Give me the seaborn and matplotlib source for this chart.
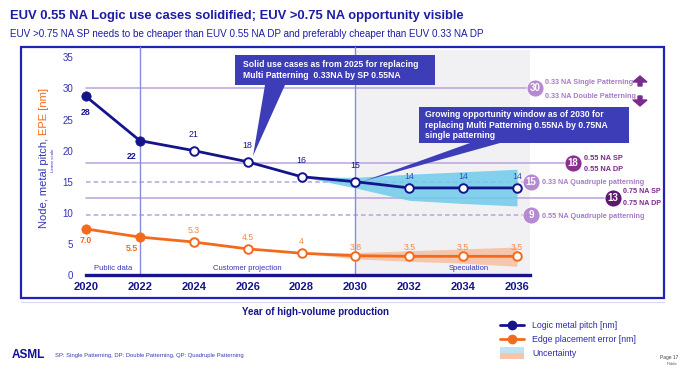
import matplotlib
matplotlib.use("Agg")
import matplotlib.pyplot as plt
import seaborn as sns
import numpy as np
import pandas as pd
from matplotlib import font_manager as fm
from matplotlib.patches import Rectangle, Polygon, FancyArrow
from matplotlib.lines import Line2D

# ---------------- data ----------------
years = [2020, 2022, 2024, 2026, 2028, 2030, 2032, 2034, 2036]
pitch = [28.7, 21.6, 20.0, 18.2, 15.8, 15.0, 14.0, 14.0, 14.0]
pitch_labels = ["28", "22", "21", "18", "16", "15", "14", "14", "14"]
epe = [7.4, 6.1, 5.3, 4.2, 3.5, 3.1, 3.0, 3.0, 3.0]
epe_labels = ["7.0", "5.5", "5.3", "4.5", "4", "3.8", "3.5", "3.5", "3.5"]
band_years = [2028, 2030, 2032, 2034, 2036]
pitch_lo = [15.8, 14.0, 12.0, 11.5, 11.1]
pitch_hi = [15.8, 15.7, 16.2, 16.6, 17.0]
epe_lo = [3.5, 2.6, 2.2, 1.9, 1.4]
epe_hi = [3.5, 3.6, 3.9, 4.2, 4.5]
ref_values = [30, 18, 15, 12.4, 9.6]
ref_numbers = ["30", "18", "15", "13", "9"]
phase_labels = ["Public data", "Customer projection", "Speculation"]
yticks = [0, 5, 10, 15, 20, 25, 30, 35]

W, H = 691, 376
sns.set_theme(style="white")
names = {f.name for f in fm.fontManager.ttflist}
BASE = "Liberation Sans" if "Liberation Sans" in names else "DejaVu Sans"
plt.rcParams["font.family"] = [BASE, "DejaVu Sans"]

NAVY = "#15148c"
BLUE_TXT = "#3434b8"
ORANGE = "#f26b1d"
LPURP = "#b68ad0"
LINE_P = "#b9a3dc"

fig = plt.figure(figsize=(W / 100, H / 100), dpi=100)
fig.patch.set_facecolor("white")

def fx(px):
    return px / W

def fy(py):
    return 1 - py / H

# axes: left 80px, right 540px, bottom 275px (y=0), top 50px
AX_L, AX_R, AX_B, AX_T = 80, 540, 275, 50
ax = fig.add_axes([fx(AX_L), fy(AX_B), (AX_R - AX_L) / W, (AX_B - AX_T) / H])
ax.set_facecolor("none")
pxyr = (517 - 86) / 16.0
x0 = 2020 - (86 - AX_L) / pxyr
x1 = 2036 + (AX_R - 517) / pxyr
ppu = (275 - 57.3) / 35.0
ax.set_xlim(x0, x1)
ax.set_ylim(0, (AX_B - AX_T) / ppu)

def dx(px):
    return 2020 + (px - 86) / pxyr

def dy(py):
    return (275 - py) / ppu

# speculation background
ax.axvspan(years[5], dx(530), ymin=0, ymax=1, color="#f1f1f4", zorder=0, lw=0)

# reference lines
styles = ["-", "-", (0, (3, 2)), "-", (0, (3, 2))]
circle_px = [535, 573, 531, 613, 531]
circle_col = [LPURP, "#8a2f90", LPURP, "#5e1870", LPURP]
for v, ls, cpx, cc, num in zip(ref_values, styles, circle_px, circle_col, ref_numbers):
    ax.plot([years[0], dx(cpx)], [v, v], ls=ls, color=LINE_P, lw=1.1, zorder=1, clip_on=False)
    ax.scatter([dx(cpx)], [v], s=150, color=cc, zorder=6, clip_on=False, edgecolor="white", linewidth=0.6)
    ax.text(dx(cpx), v, num, color="white", fontsize=7, fontweight="bold",
            ha="center", va="center", zorder=7, clip_on=False)

# vertical divider lines
for yr in (years[1], years[5]):
    ax.plot([yr, yr], [0, dy(47)], color="#8a8ae0", lw=1.0, zorder=1, clip_on=False)

# uncertainty bands
ax.fill_between(band_years, pitch_lo, pitch_hi, color="#6fcbea", alpha=0.85, lw=0, zorder=2)
ax.fill_between(band_years, epe_lo, epe_hi, color="#f7b794", alpha=0.75, lw=0, zorder=2)

df = pd.DataFrame({"year": years, "pitch": pitch, "epe": epe})
sns.lineplot(data=df, x="year", y="pitch", color=NAVY, lw=2.0, ax=ax, zorder=4)
sns.lineplot(data=df, x="year", y="epe", color=ORANGE, lw=2.0, ax=ax, zorder=4)
sns.scatterplot(data=df.iloc[:2], x="year", y="pitch", color=NAVY, s=45, edgecolor=NAVY, ax=ax, zorder=5, clip_on=False)
sns.scatterplot(data=df.iloc[2:], x="year", y="pitch", color="white", s=38, edgecolor=NAVY, linewidth=1.4, ax=ax, zorder=5, clip_on=False)
sns.scatterplot(data=df.iloc[:2], x="year", y="epe", color=ORANGE, s=45, edgecolor=ORANGE, ax=ax, zorder=5, clip_on=False)
sns.scatterplot(data=df.iloc[2:], x="year", y="epe", color="white", s=38, edgecolor=ORANGE, linewidth=1.4, ax=ax, zorder=5, clip_on=False)

# value labels
for i, (yr, v, lab) in enumerate(zip(years, pitch, pitch_labels)):
    if i < 2:
        ax.text(yr - (0.3 if i == 1 else 0), v - 2.6, lab, color=NAVY, fontsize=6.3, fontweight="bold",
                ha="center", va="center", zorder=6)
    else:
        ax.text(yr, v + 2.6 if i < 6 else v + 1.9, lab, color=NAVY if i < 6 else "#2f4fb8", fontsize=6.3,
                ha="center", va="center", zorder=6)
for i, (yr, v, lab) in enumerate(zip(years, epe, epe_labels)):
    if i < 2:
        ax.text(yr - (0.3 if i == 1 else 0), v - 1.9, lab, color=ORANGE, fontsize=6.3, fontweight="bold",
                ha="center", va="center", zorder=6)
    else:
        ax.text(yr, v + 1.9 if i < 5 else v + 1.4, lab, color="#f08a4a", fontsize=6.3,
                ha="center", va="center", zorder=6)

# phase labels
for xp, lab in zip([2021.0, 2026.0, 2034.2], phase_labels):
    ax.text(xp, 1.0, lab, color=BLUE_TXT, fontsize=5.5, ha="center", va="center", zorder=6)

# axes styling
sns.despine(ax=ax, left=True, top=True, right=True)
ax.spines["bottom"].set_bounds(years[0], dx(530))
ax.spines["bottom"].set_color(NAVY)
ax.spines["bottom"].set_linewidth(2.4)
ax.set_xticks(years)
ax.set_xticklabels([str(y) for y in years], fontweight="bold", color=NAVY, fontsize=8)
ax.set_yticks(yticks)
ax.set_yticklabels([str(t) for t in yticks], color=BLUE_TXT, fontsize=7)
ax.tick_params(axis="x", length=0, pad=5)
ax.tick_params(axis="y", length=0, pad=5)
ax.set_xlabel("")
ax.set_ylabel("")
ax.grid(False)

# callout boxes
BOXC = "#3d3db8"
b1 = [(dx(235), dy(55)), (dx(435), dy(55)), (dx(435), dy(85)), (dx(285), dy(85)),
      (dx(253), dy(156)), (dx(265), dy(85)), (dx(235), dy(85))]
ax.add_patch(Polygon(b1, closed=True, color=BOXC, zorder=8, clip_on=False, lw=0))
ax.text(dx(243), dy(70), "Solid use cases as from 2025 for replacing\nMulti Patterning  0.33NA by SP 0.55NA",
        color="white", fontsize=6.2, fontweight="bold", ha="left", va="center", zorder=9, linespacing=1.3)
b2 = [(dx(419), dy(107)), (dx(629), dy(107)), (dx(629), dy(143)), (dx(500), dy(143)),
      (dx(364), dy(181)), (dx(470), dy(143)), (dx(419), dy(143))]
ax.add_patch(Polygon(b2, closed=True, color=BOXC, zorder=8, clip_on=False, lw=0))
ax.text(dx(425), dy(125), "Growing opportunity window as of 2030 for\nreplacing Multi Patterning 0.55NA by 0.75NA\nsingle patterning",
        color="white", fontsize=6.2, fontweight="bold", ha="left", va="center", zorder=9, linespacing=1.25)

# right side annotations (figure coords)
PT = "#a77cc8"
DP = "#7a2b8e"
fig.text(fx(545), fy(83), "0.33 NA Single Patterning", color=PT, fontsize=5.2, fontweight="bold", va="center")
fig.text(fx(545), fy(96), "0.33 NA Double Patterning", color=PT, fontsize=5.2, fontweight="bold", va="center")
fig.add_artist(FancyArrow(fx(640), fy(86), 0, 10 / H, width=4 / W, head_width=14 / W, head_length=6 / H,
                          length_includes_head=True, color=DP, transform=fig.transFigure))
fig.add_artist(FancyArrow(fx(640), fy(96), 0, -10 / H, width=4 / W, head_width=14 / W, head_length=6 / H,
                          length_includes_head=True, color=DP, transform=fig.transFigure))
fig.text(fx(584), fy(158), "0.55 NA SP", color=DP, fontsize=5.3, fontweight="bold", va="center")
fig.text(fx(584), fy(169), "0.55 NA DP", color=DP, fontsize=5.3, fontweight="bold", va="center")
fig.text(fx(542), fy(183), "0.33 NA Quadruple patterning", color=PT, fontsize=5.2, fontweight="bold", va="center")
fig.text(fx(623), fy(192), "0.75 NA SP", color=DP, fontsize=5.1, fontweight="bold", va="center")
fig.text(fx(623), fy(204), "0.75 NA DP", color=DP, fontsize=5.1, fontweight="bold", va="center")
fig.text(fx(542), fy(216), "0.55 NA Quadruple patterning", color=PT, fontsize=5.2, fontweight="bold", va="center")

# frame
fig.add_artist(Rectangle((fx(21), fy(298)), (664 - 21) / W, (298 - 47) / H, transform=fig.transFigure,
                         fill=False, edgecolor="#2222b0", lw=1.6, zorder=0))
fig.add_artist(Line2D([fx(21), fx(664)], [fy(302), fy(302)], color="#d8d8f4", lw=0.8, transform=fig.transFigure))

# y label (two colours)
t1 = fig.text(fx(44), fy(228), "Node, metal pitch, ", color=BLUE_TXT, fontsize=8, rotation=90,
              ha="center", va="bottom")
fig.canvas.draw()
bb = t1.get_window_extent()
fig.text(fx(44), bb.y1 / H, "EPE [nm]", color=ORANGE, fontsize=8, rotation=90, ha="center", va="bottom")
fig.text(fx(53), fy(160), "Linear scale", color=BLUE_TXT, fontsize=3.2, rotation=90, ha="center", va="center")

# titles
fig.text(fx(10), fy(16), "EUV 0.55 NA Logic use cases solidified; EUV >0.75 NA opportunity visible",
         fontsize=9.4, fontweight="bold", color="#1c1ca6", va="center")
fig.text(fx(10), fy(34), "EUV >0.75 NA SP needs to be cheaper than EUV 0.55 NA DP and preferably cheaper than EUV 0.33 NA DP",
         fontsize=7.1, color="#1c1ca6", va="center")

fig.text(fx(315), fy(312), "Year of high-volume production", color=NAVY, fontsize=7, fontweight="bold",
         ha="center", va="center")

# legend (manual)
fig.add_artist(Line2D([fx(500), fx(524)], [fy(325), fy(325)], color=NAVY, lw=2, transform=fig.transFigure))
fig.add_artist(Line2D([fx(512)], [fy(325)], color=NAVY, marker="o", markersize=6, transform=fig.transFigure))
fig.add_artist(Line2D([fx(500), fx(524)], [fy(339), fy(339)], color=ORANGE, lw=2, transform=fig.transFigure))
fig.add_artist(Line2D([fx(512)], [fy(339)], color=ORANGE, marker="o", markersize=6, transform=fig.transFigure))
fig.add_artist(Rectangle((fx(500), fy(353)), 24 / W, 6 / H, transform=fig.transFigure, color="#bfe3f3", lw=0))
fig.add_artist(Rectangle((fx(500), fy(359)), 24 / W, 6 / H, transform=fig.transFigure, color="#f7c4aa", lw=0))
for yy, lab in zip([325, 339, 353], ["Logic metal pitch [nm]", "Edge placement error [nm]", "Uncertainty"]):
    fig.text(fx(532), fy(yy), lab, color="#2b2bb0", fontsize=6.3, va="center")

fig.text(fx(12), fy(355), "ASML", color="#10109a", fontsize=8.5, fontweight="bold", va="center")
fig.text(fx(55), fy(355), "SP: Single Patterning, DP: Double Patterning, QP: Quadruple Patterning",
         color="#3a3ab8", fontsize=4.2, va="center")
fig.text(fx(678), fy(358), "Page 17", color="#444444", fontsize=3.5, ha="right", va="center")
fig.text(fx(678), fy(364), "Public", color="#666666", fontsize=3.0, ha="right", va="center")

fig.savefig("out.png", dpi=100, facecolor="white")
